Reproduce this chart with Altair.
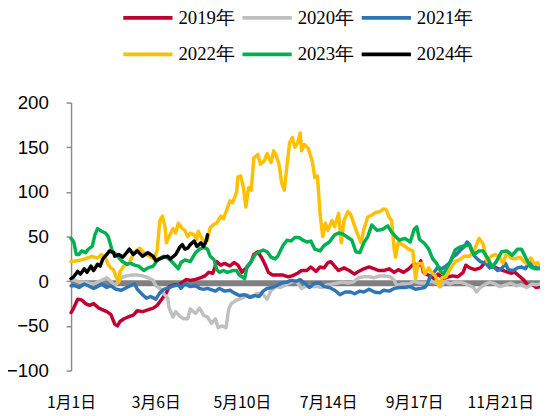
import altair as alt
import pandas as pd

years = ["2019年", "2020年", "2021年", "2022年", "2023年", "2024年"]
colors = ["#C00030", "#BFBFBF", "#2E75B6", "#FFC000", "#00B050", "#000000"]

tick_days = [0, 64, 129, 194, 259, 324]
tick_labels = ["1月1日", "3月6日", "5月10日", "7月14日", "9月17日", "11月21日"]
y_ticks = [-100, -50, 0, 50, 100, 150, 200]

# (day of year, value)
s2019 = [(0,-35),(2,-30),(5,-20),(8,-21),(11,-25),(14,-27),(17,-25),(21,-30),(24,-32),(27,-34),
         (30,-37),(33,-48),(35,-50),(37,-45),(40,-42),(43,-40),(47,-38),(50,-33),(54,-34),(58,-32),
         (62,-30),(65,-27),(69,-19),(72,-13),(74,-6),(78,-4),(81,-4),(84,-1),(87,2),(90,1),(94,2),
         (98,4),(101,6),(104,10),(107,9),(110,22),(113,18),(116,20),(120,17),(123,21),(126,18),
         (129,10),(133,16),(136,22),(138,30),(141,33),(144,26),(147,17),(149,10),(152,7),(156,7),
         (160,7),(164,5),(167,6),(171,9),(174,12),(178,12),(181,16),(185,11),(188,16),(191,15),
         (194,21),(196,22),(199,17),(202,12),(206,15),(210,12),(214,8),(217,11),(221,14),(225,16),
         (229,14),(232,12),(236,12),(240,14),(244,10),(247,13),(251,10),(255,14),(259,20),(262,17),
         (264,23),(266,10),(268,8),(271,6),(274,3),(277,8),(281,3),(285,5),(288,6),(292,5),(296,10),
         (298,18),(301,15),(305,13),(309,15),(312,20),(314,24),(317,18),(321,15),(324,13),(328,11),
         (332,9),(335,10),(339,5),(342,1),(345,-5),(348,-3),(351,-7),(354,-6)]

s2020 = [(0,2),(3,1),(6,-1),(10,-1),(13,-2),(17,-3),(20,-1),(23,1),(27,4),(30,0),(33,-5),(36,0),
         (38,4),(42,6),(46,7),(50,7),(54,6),(58,4),(62,1),(64,-5),(68,-9),(70,-14),(73,-19),(74,-30),
         (77,-40),(79,-34),(82,-39),(85,-42),(88,-42),(90,-31),(94,-36),(97,-30),(100,-38),(103,-40),
         (106,-47),(109,-42),(111,-52),(114,-50),(117,-52),(119,-31),(121,-25),(125,-21),(129,-19),
         (133,-15),(137,-18),(140,-14),(144,-13),(148,-20),(151,-10),(155,-6),(158,-7),(162,-4),
         (166,-1),(170,0),(174,-8),(178,-5),(182,-6),(186,-6),(189,-7),(193,-4),(197,-3),(201,-2),
         (205,-1),(209,-2),(213,-1),(217,4),(221,5),(225,5),(229,4),(233,6),(237,6),(241,5),(244,1),
         (246,-5),(250,-3),(255,-3),(259,0),(263,-2),(268,-2),(272,0),(277,-3),(279,-6),(282,0),
         (286,-3),(290,-1),(294,-1),(298,-3),(301,-5),(304,-7),(306,-12),(309,-7),(313,-3),(316,-1),
         (320,-3),(324,-6),(328,-4),(332,-2),(336,-5),(340,-4),(344,-7),(348,-3),(351,-4),(354,-3)]

s2021 = [(0,-5),(3,-5),(6,-7),(10,-3),(13,-5),(17,-8),(20,-6),(23,-3),(27,-7),(30,-5),(34,-9),
         (38,-10),(42,-7),(45,-5),(48,-3),(50,-9),(54,-15),(57,-19),(60,-17),(64,-20),(67,-13),
         (70,-9),(74,-7),(78,-5),(81,-4),(83,-8),(86,-3),(90,-6),(94,-5),(97,-8),(100,-9),(103,-8),
         (105,-9),(109,-11),(112,-8),(116,-11),(120,-10),(123,-13),(127,-16),(131,-15),(135,-18),
         (138,-16),(142,-17),(145,-11),(148,-8),(152,-7),(155,-5),(159,-2),(163,-1),(166,1),(170,0),
         (173,2),(177,-3),(180,-7),(184,-2),(188,-2),(191,-6),(195,-7),(199,-10),(203,-15),(207,-12),
         (211,-12),(214,-14),(218,-11),(221,-12),(225,-9),(229,-12),(233,-13),(236,-10),(240,-11),
         (244,-8),(248,-7),(252,-7),(256,-6),(260,-9),(264,-8),(267,-7),(269,-3),(271,5),(274,10),
         (277,16),(280,14),(283,17),(286,21),(288,27),(291,30),(294,35),(297,39),(299,44),(301,41),
         (303,31),(306,26),(309,22),(313,20),(316,15),(319,17),(322,12),(325,14),(328,20),(330,13),
         (334,12),(337,15),(340,16),(343,14),(346,21),(349,17),(352,15),(354,14)]

s2022 = [(0,22),(4,23),(8,24),(12,26),(16,28),(20,26),(23,30),(26,26),(28,19),(30,15),(32,13),
         (34,5),(36,-1),(37,11),(40,17),(44,21),(48,33),(52,37),(55,32),(59,28),(63,25),(65,35),
         (67,68),(69,73),(71,60),(72,43),(74,50),(77,59),(79,54),(81,65),(84,59),(86,57),(88,50),
         (90,54),(93,52),(95,47),(96,56),(99,47),(101,45),(103,46),(105,60),(108,64),(110,65),
         (113,73),(115,70),(118,82),(120,90),(122,88),(125,100),(126,117),(128,118),(130,106),
         (132,83),(134,105),(136,102),(138,138),(141,142),(143,131),(146,135),(148,143),(151,133),
         (153,146),(155,140),(157,131),(159,110),(161,102),(163,130),(165,155),(167,161),(169,150),
         (171,155),(173,166),(174,146),(176,153),(179,149),(182,135),(184,116),(186,118),(188,75),
         (190,50),(192,65),(194,57),(197,68),(199,61),(202,76),(204,43),(206,68),(209,78),(211,75),
         (214,62),(217,50),(219,43),(221,58),(224,72),(227,74),(230,77),(233,78),(236,81),(238,80),
         (240,72),(242,68),(244,35),(245,27),(247,44),(251,40),(255,36),(258,34),(260,3),(262,20),
         (265,20),(267,8),(270,15),(272,10),(275,6),(278,-6),(280,4),(283,5),(286,13),(290,22),
         (293,24),(297,28),(301,28),(305,37),(308,48),(311,42),(314,22),(317,28),(320,30),(323,28),
         (326,20),(329,32),(332,26),(335,25),(339,27),(342,22),(344,20),(347,26),(350,19),(352,21),
         (354,18)]

s2023 = [(0,48),(2,44),(4,30),(6,30),(8,34),(11,32),(13,36),(16,39),(18,52),(20,59),(23,56),
         (26,54),(28,50),(30,40),(31,34),(34,30),(38,23),(42,19),(45,20),(48,18),(51,17),(55,12),
         (58,15),(62,17),(66,25),(70,28),(74,25),(78,19),(81,14),(83,21),(86,24),(90,22),(94,32),
         (97,36),(100,38),(103,36),(105,28),(108,24),(110,13),(112,10),(115,12),(118,10),(122,12),
         (125,12),(127,7),(129,5),(131,3),(133,17),(136,22),(139,30),(142,33),(145,35),(148,33),
         (151,27),(154,25),(156,28),(160,40),(163,46),(166,45),(169,49),(172,49),(175,46),(178,44),
         (181,45),(184,36),(188,34),(191,40),(195,44),(199,52),(202,54),(205,53),(209,49),(212,46),
         (215,33),(218,32),(221,43),(224,50),(227,63),(231,57),(235,58),(239,62),(242,55),(245,50),
         (248,46),(252,48),(256,44),(259,58),(261,61),(263,47),(267,42),(270,36),(273,25),(276,20),
         (279,11),(281,8),(283,13),(286,21),(290,35),(293,38),(297,40),(301,40),(304,30),(308,34),
         (311,34),(314,27),(318,16),(321,22),(325,33),(329,34),(333,29),(337,36),(340,36),(344,24),
         (347,16),(350,14),(352,14),(354,15)]

s2024 = [(0,3),(2,5),(5,11),(7,8),(10,14),(12,10),(15,17),(17,12),(20,19),(22,17),(24,25),(27,30),
         (29,34),(32,32),(33,28),(36,30),(39,27),(42,32),(44,36),(47,30),(50,34),(54,28),(58,32),
         (62,28),(64,23),(67,25),(70,27),(73,28),(75,25),(79,30),(82,38),(84,41),(86,36),(88,37),
         (90,41),(93,45),(95,39),(98,43),(100,39),(102,45),(103,52)]

series = [s2019, s2020, s2021, s2022, s2023, s2024]
rows = []
for name, pts in zip(years, series):
    for d, v in pts:
        rows.append({"year": name, "day": d, "value": v})
df = pd.DataFrame(rows)

label_expr = " : ".join(
    f"datum.value == {d} ? '{t}'" for d, t in zip(tick_days, tick_labels)
) + " : ''"

x_enc = alt.X(
    "day:Q",
    scale=alt.Scale(domain=[0, 354], nice=False, zero=False),
    axis=alt.Axis(values=tick_days, labelExpr=label_expr, domain=False, ticks=False,
                  grid=False, title=None, labelFont="Noto Sans CJK SC", labelFontSize=16,
                  labelColor="#000000", labelPadding=24, labelFlush=False, labelOverlap=False),
)
y_enc = alt.Y(
    "value:Q",
    scale=alt.Scale(domain=[-100, 200], nice=False, zero=False),
    axis=alt.Axis(values=y_ticks, grid=False, title=None, domainColor="#8C8C8C", domainWidth=1.5,
                  tickColor="#8C8C8C", tickWidth=1.5, tickSize=5, labelFont="Liberation Sans",
                  labelFontSize=19, labelColor="#000000", labelPadding=18),
)

zero = alt.Chart(pd.DataFrame({"z": [0]})).mark_rule(
    color="#808080", strokeWidth=6, yOffset=2
).encode(y=alt.datum(0))

lines = alt.Chart(df).mark_line(strokeWidth=3.5, strokeJoin="round", strokeCap="round").encode(
    x=x_enc,
    y=y_enc,
    color=alt.Color(
        "year:N",
        scale=alt.Scale(domain=years, range=colors),
        sort=years,
        legend=alt.Legend(
            orient="none", legendX=51, legendY=-113, columns=3, direction="horizontal",
            title=None, symbolType="stroke", symbolSize=2500, symbolStrokeWidth=4,
            labelFont="Liberation Serif", labelFontSize=19, labelColor="#000000",
            labelOffset=4, columnPadding=0, rowPadding=-7, padding=0,
        ),
    ),
)

chart = alt.layer(zero, lines).properties(
    width=476, height=272,
    autosize=alt.AutoSizeParams(type="none"),
    padding={"left": 64, "top": 93, "right": 0, "bottom": 40},
).configure_view(stroke=None)

chart.save("out.html", embed_options={"renderer": "svg", "actions": False})
